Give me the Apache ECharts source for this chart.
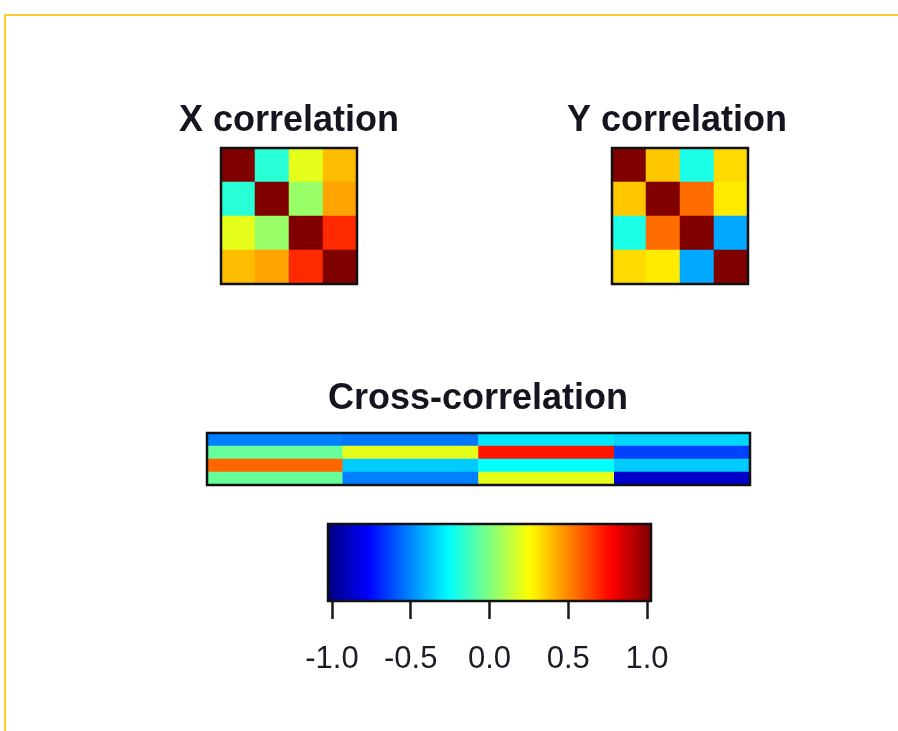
<!DOCTYPE html>
<html>
<head>
<meta charset="utf-8">
<script src="https://cdn.jsdelivr.net/npm/echarts@6/dist/echarts.min.js"></script>
<style>
  html, body { margin: 0; padding: 0; background: #fff; }
  #frame { position: absolute; left: 4px; top: 14px; width: 1000px; height: 1000px;
           border-left: 2px solid #FFCB2E; border-top: 2px solid #FFCB2E; }
  #chart { position: absolute; left: 0; top: 0; width: 898px; height: 731px; }
</style>
</head>
<body>
<div id="frame"></div>
<div id="chart"></div>
<script>
// ---- data (rows listed top to bottom, columns left to right) ----
const xLabels = ['1', '2', '3', '4'];
const yLabels = ['1', '2', '3', '4'];
const crossRowLabels = ['1', '2', '3', '4'];
const crossColLabels = ['1', '2', '3', '4'];

const xCorr = [
  [1.00, -0.17, 0.20, 0.38],
  [-0.17, 1.00, 0.05, 0.43],
  [0.20, 0.05, 1.00, 0.67],
  [0.38, 0.43, 0.67, 1.00]
];
const yCorr = [
  [1.00, 0.36, -0.20, 0.32],
  [0.36, 1.00, 0.54, 0.29],
  [-0.20, 0.54, 1.00, -0.42],
  [0.32, 0.29, -0.42, 1.00]
];
const crossCorr = [
  [-0.50, -0.52, -0.30, -0.33],
  [-0.05, 0.20, 0.71, -0.62],
  [0.55, -0.35, -0.25, -0.35],
  [-0.05, -0.50, 0.20, -0.85]
];
const colorbarTicks = [-1.0, -0.5, 0.0, 0.5, 1.0];
const titles = ['X correlation', 'Y correlation', 'Cross-correlation'];

// jet colour map stops (evenly spaced)
const jet = ['#000080', '#0000FF', '#0080FF', '#00FFFF', '#80FF80',
             '#FFFF00', '#FF8000', '#FF0000', '#800000'];

function triples(m) {
  const out = [];
  m.forEach((row, i) => row.forEach((v, j) => out.push([j, i, v])));
  return out;
}

const FONT = '"Liberation Sans", Arial, sans-serif';
const gridBorder = { show: true, z: 10, backgroundColor: 'transparent',
                     borderColor: '#111', borderWidth: 2.5 };

const chart = echarts.init(document.getElementById('chart'), null, { renderer: 'canvas' });

const titleStyle = { fontFamily: FONT, fontWeight: 'bold', fontSize: 36, color: '#151520' };

chart.setOption({
  backgroundColor: 'transparent',
  animation: false,
  title: [
    { text: titles[0], left: 289, top: 103, textAlign: 'center', padding: 0, textStyle: titleStyle },
    { text: titles[1], left: 677, top: 103, textAlign: 'center', padding: 0, textStyle: titleStyle },
    { text: titles[2], left: 478, top: 381, textAlign: 'center', padding: 0, textStyle: titleStyle }
  ],
  grid: [
    Object.assign({ left: 221, top: 148, width: 136, height: 136 }, gridBorder),
    Object.assign({ left: 612, top: 148, width: 136, height: 136 }, gridBorder),
    Object.assign({ left: 207, top: 433, width: 543, height: 52 }, gridBorder),
    Object.assign({ left: 328, top: 524, width: 323, height: 77 }, gridBorder)
  ],
  xAxis: [
    { type: 'category', gridIndex: 0, data: xLabels, show: false },
    { type: 'category', gridIndex: 1, data: yLabels, show: false },
    { type: 'category', gridIndex: 2, data: crossColLabels, show: false },
    { type: 'value', gridIndex: 3, min: -1.025, max: 1.025, position: 'bottom',
      axisLine: { show: false }, splitLine: { show: false },
      axisTick: { show: true, customValues: colorbarTicks, length: 18,
                  lineStyle: { color: '#1a1a1a', width: 2.5 } },
      axisLabel: { show: true, customValues: colorbarTicks, margin: 43,
                   formatter: v => v.toFixed(1),
                   fontFamily: FONT, fontSize: 31, color: '#1c1c28' } }
  ],
  yAxis: [
    { type: 'category', gridIndex: 0, data: xLabels, inverse: true, show: false },
    { type: 'category', gridIndex: 1, data: yLabels, inverse: true, show: false },
    { type: 'category', gridIndex: 2, data: crossRowLabels, inverse: true, show: false },
    { type: 'value', gridIndex: 3, min: 0, max: 1, show: false }
  ],
  visualMap: {
    type: 'continuous', min: -1, max: 1, seriesIndex: [0, 1, 2],
    orient: 'horizontal', left: 328, top: 524, padding: 0,
    itemWidth: 77, itemHeight: 323, calculable: false, hoverLink: false,
    text: null, showLabel: false,
    inRange: { color: jet }
  },
  series: [
    { type: 'heatmap', xAxisIndex: 0, yAxisIndex: 0, data: triples(xCorr), emphasis: { disabled: true } },
    { type: 'heatmap', xAxisIndex: 1, yAxisIndex: 1, data: triples(yCorr), emphasis: { disabled: true } },
    { type: 'heatmap', xAxisIndex: 2, yAxisIndex: 2, data: triples(crossCorr), emphasis: { disabled: true } }
  ]
});
</script>
</body>
</html>
